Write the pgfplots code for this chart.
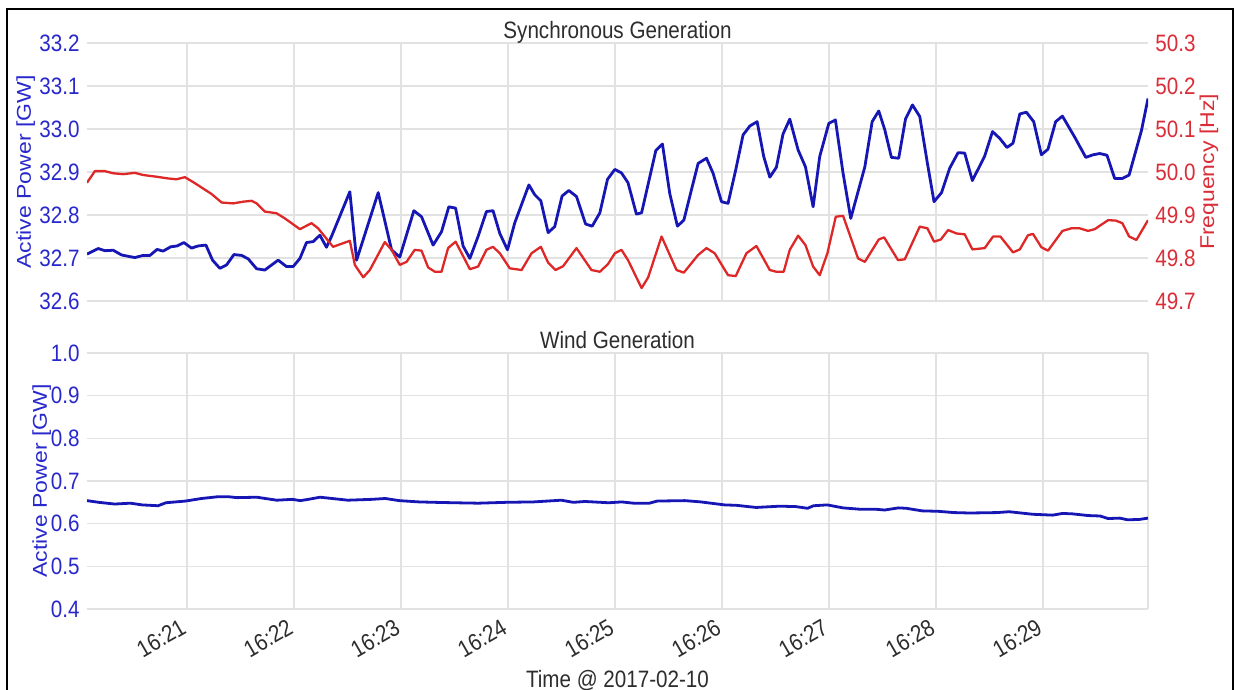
\documentclass[border=0pt]{standalone}
\usepackage{fontspec}
\setmainfont{Liberation Sans}[FakeStretch=0.87]
\newfontfamily\vfont{Liberation Sans}
\usepackage{graphicx}
\usepackage{pgfplots}
\pgfplotsset{compat=1.18}

\definecolor{pblue}{RGB}{22,22,180}
\definecolor{lblue}{RGB}{40,40,205}
\definecolor{pred}{RGB}{222,40,40}
\definecolor{lred}{RGB}{218,45,55}
\definecolor{gridc}{RGB}{226,226,226}
\definecolor{titc}{RGB}{45,45,45}

\newcommand{\hfont}{\fontsize{11.85bp}{14bp}\selectfont}
\newcommand{\vlab}[1]{\scalebox{1}[0.87]{\vfont\fontsize{11.5bp}{14bp}\selectfont #1}}

\pgfplotsset{
  base/.style={
    scale only axis, width=530.5bp, anchor=south west,
    xmin=4, xmax=599,
    xtick={60,120,180,240,300,360,420,480,540},
    axis line style={draw=none}, major tick length=0pt,
    grid=major, grid style={line width=0.8bp, color=gridc},
    /pgf/number format/assume math mode=true,
    tick label style={font=\hfont},
    y tick label style={/pgf/number format/.cd, fixed, fixed zerofill, precision=1, /tikz/.cd},
    every axis title/.style={at={(0.5,1)}, anchor=base, inner sep=0pt, font=\hfont, text=titc},
  },
}

\begin{document}
\begin{tikzpicture}
\useasboundingbox (0,0) rectangle (617bp,345bp);
\draw[line width=1bp] (3.5bp,0) -- (3.5bp,340.5bp) -- (616.5bp,340.5bp) -- (616.5bp,0);

% synchronous generation, active power
\begin{axis}[base,
  at={(43.5bp,194.5bp)}, height=129bp,
  ymin=32.6, ymax=33.2,
  ytick={32.6,32.7,32.8,32.9,33.0,33.1,33.2},
  xticklabels={},
  yticklabel style={color=lblue, anchor=east, inner xsep=0pt, xshift=-3.5bp},
  title={Synchronous Generation},
  title style={yshift=2bp},
  ylabel={\vlab{Active Power [GW]}},
  every axis y label/.style={at={(axis description cs:-0.0528,0.5)}, anchor=base, rotate=90, inner sep=0pt, color=lblue},
]
\addplot[draw=pblue, line width=1.4bp, line join=round, mark=none] coordinates {
(4,32.709)(10.3,32.722)(14.0,32.717)(18.7,32.718)(23.4,32.707)(30.8,32.701)(35.5,32.706)(39.3,32.706)
(43.3,32.720)(46.7,32.716)(50.9,32.726)(54.6,32.728)(58.3,32.736)(62.6,32.723)(66.3,32.728)(70.7,32.730)
(74.4,32.695)(78.5,32.676)(82.3,32.684)(86.4,32.708)(90.7,32.706)(94.4,32.698)(99.1,32.675)(103.7,32.672)
(111.2,32.695)(115.9,32.680)(119.6,32.680)(123.4,32.699)(127.1,32.736)(130.8,32.738)(134.6,32.753)(138.3,32.725)
(141.1,32.750)(151.4,32.854)(155.2,32.695)(167.3,32.852)(174.8,32.719)(179.4,32.702)(187.3,32.810)(191.6,32.796)
(198.1,32.730)(202.8,32.761)(206.9,32.819)(210.7,32.816)(214.9,32.728)(218.7,32.699)(223.3,32.750)(228.0,32.808)
(231.7,32.810)(235.5,32.757)(239.8,32.719)(243.9,32.782)(251.8,32.870)(255.1,32.847)(258.5,32.833)(262.6,32.759)
(266.3,32.773)(270.4,32.844)(274.2,32.857)(278.5,32.843)(283.6,32.779)(287.3,32.774)(291.6,32.805)(295.9,32.883)
(300.0,32.906)(303.7,32.898)(307.4,32.875)(312.1,32.802)(315.0,32.805)(323.0,32.950)(326.7,32.965)(330.8,32.850)
(335.1,32.774)(338.7,32.788)(346.7,32.920)(351.4,32.932)(355.1,32.897)(359.8,32.831)(363.5,32.827)(367.8,32.905)
(371.9,32.986)(375.7,33.007)(379.8,33.017)(383.5,32.936)(386.9,32.888)(390.6,32.911)(394.3,32.988)(398.1,33.023)
(402.8,32.951)(406.9,32.912)(411.2,32.819)(414.9,32.936)(420.0,33.013)(423.7,33.021)(428.0,32.897)(432.3,32.792)
(440.2,32.912)(444.3,33.017)(448.0,33.042)(451.4,32.998)(455.1,32.934)(459.2,32.932)(463.0,33.023)(466.9,33.056)
(471.0,33.029)(475.3,32.920)(479.0,32.831)(483.2,32.852)(487.8,32.909)(492.5,32.945)(496.2,32.944)(500.5,32.880)
(507.4,32.937)(511.8,32.994)(515.9,32.978)(519.9,32.957)(523.3,32.967)(527.1,33.035)(530.8,33.039)(534.9,33.017)
(539.2,32.940)(542.9,32.953)(547.2,33.017)(551.0,33.030)(557.9,32.981)(564.1,32.934)(568.2,32.940)(571.9,32.943)
(576.0,32.939)(580.3,32.885)(584.6,32.885)(588.4,32.893)(595.3,32.996)(599.0,33.071)
};
\end{axis}

% synchronous generation, frequency
\begin{axis}[base,
  at={(43.5bp,194.5bp)}, height=129bp,
  ymin=49.7, ymax=50.3,
  ytick={49.7,49.8,49.9,50.0,50.1,50.2,50.3},
  axis y line*=right, axis x line=none, grid=none,
  yticklabel style={color=lred, anchor=west, inner xsep=0pt, xshift=3.5bp},
  ylabel={\vlab{Frequency [Hz]}},
  every axis y label/.style={at={(axis description cs:1.0622,0.5)}, anchor=base, rotate=90, inner sep=0pt, color=lred},
]
\addplot[draw=pred, line width=1.15bp, line join=round, mark=none] coordinates {
(4,49.975)(8.4,50.002)(14.0,50.002)(18.7,49.997)(24.3,49.995)(30.8,49.998)(35.5,49.993)(43.0,49.989)
(49.5,49.985)(54.2,49.983)(58.9,49.988)(64.5,49.974)(73.8,49.949)(79.5,49.929)(86.0,49.927)(91.6,49.931)
(96.3,49.933)(99.1,49.927)(103.7,49.908)(110.3,49.904)(115.0,49.892)(123.4,49.867)(129.9,49.881)(133.6,49.869)
(142.0,49.826)(151.4,49.840)(154.2,49.784)(158.9,49.755)(162.6,49.772)(171.0,49.837)(174.8,49.819)(179.4,49.784)
(183.2,49.791)(187.8,49.819)(191.6,49.817)(195.3,49.778)(199.1,49.768)(202.8,49.768)(206.5,49.823)(210.7,49.838)
(218.7,49.774)(223.3,49.780)(228.0,49.819)(231.7,49.826)(235.5,49.811)(241.1,49.776)(247.7,49.772)(253.3,49.811)
(258.5,49.826)(262.6,49.789)(266.7,49.772)(271.0,49.781)(278.5,49.823)(286.9,49.772)(291.6,49.768)(296.2,49.786)
(300.0,49.811)(303.7,49.819)(307.4,49.795)(315.0,49.730)(318.7,49.755)(326.2,49.850)(334.6,49.772)(338.7,49.766)
(346.7,49.807)(351.4,49.823)(356.0,49.811)(363.5,49.760)(367.8,49.758)(373.8,49.811)(379.4,49.828)(386.9,49.772)
(390.6,49.768)(394.7,49.768)(398.1,49.819)(402.8,49.852)(406.9,49.830)(411.2,49.780)(414.9,49.760)(419.2,49.811)
(423.9,49.896)(428.0,49.898)(436.4,49.799)(440.2,49.791)(448.0,49.843)(451.0,49.848)(458.8,49.795)(462.6,49.797)
(471.0,49.873)(475.3,49.869)(479.0,49.838)(482.8,49.843)(486.9,49.865)(491.6,49.857)(496.2,49.855)(500.5,49.820)
(507.4,49.823)(512.1,49.850)(516.2,49.850)(523.3,49.813)(527.1,49.820)(531.7,49.853)(534.5,49.856)(539.2,49.825)
(542.9,49.817)(551.0,49.863)(556.0,49.869)(560.7,49.869)(565.4,49.863)(569.1,49.867)(576.6,49.888)(580.9,49.887)
(584.6,49.881)(588.4,49.850)(592.5,49.842)(599.0,49.888)
};
\end{axis}

% wind generation
\begin{axis}[base,
  at={(43.5bp,40.5bp)}, height=128bp,
  ymin=0.4, ymax=1.0,
  ytick={0.4,0.5,0.6,0.7,0.8,0.9,1.0},
  xticklabels={16:21,16:22,16:23,16:24,16:25,16:26,16:27,16:28,16:29},
  extra x ticks={599}, extra x tick labels={},
  xticklabel style={xshift=-1.5bp, yshift=-8bp, rotate=30, anchor=east, inner sep=0pt, color=titc},
  yticklabel style={color=lblue, anchor=east, inner xsep=0pt, xshift=-3.5bp},
  title={Wind Generation},
  title style={yshift=2.4bp},
  ylabel={\vlab{Active Power [GW]}},
  every axis y label/.style={at={(axis description cs:-0.0377,0.5)}, anchor=base, rotate=90, inner sep=0pt, color=lblue},
  xlabel={Time @ 2017-02-10},
  every axis x label/.style={at={(axis description cs:0.5,0)}, anchor=base, yshift=-39bp, inner sep=0pt, font=\hfont, text=titc},
]
\addplot[draw=pblue, line width=1.4bp, line join=round, mark=none] coordinates {
(4,0.654)(10.6,0.650)(19.5,0.646)(28.3,0.648)(34.9,0.644)(43.9,0.642)(48.2,0.649)(59.3,0.653)
(68.2,0.659)(77.1,0.663)(83.7,0.663)(88.1,0.661)(99.2,0.662)(110.4,0.655)(119.2,0.657)(123.6,0.654)
(128.1,0.657)(134.7,0.662)(141.4,0.659)(150.3,0.655)(163.6,0.657)(171.3,0.659)(179.1,0.654)(190.1,0.651)
(199.1,0.650)(210.1,0.649)(223.4,0.648)(238.9,0.650)(254.5,0.651)(270.0,0.655)(276.7,0.650)(283.3,0.652)
(296.6,0.649)(303.8,0.651)(310.5,0.648)(319.4,0.648)(323.8,0.653)(339.3,0.654)(348.2,0.651)(361.5,0.644)
(368.2,0.643)(379.2,0.638)(392.6,0.641)(401.4,0.640)(408.1,0.636)(411.4,0.642)(419.1,0.644)(428.0,0.637)
(436.9,0.634)(445.8,0.634)(451.3,0.632)(459.1,0.637)(463.5,0.636)(472.3,0.630)(481.2,0.629)(490.1,0.626)
(499.0,0.625)(514.5,0.626)(521.1,0.628)(534.4,0.622)(545.5,0.620)(551.1,0.624)(556.6,0.623)(565.5,0.619)
(572.1,0.618)(576.6,0.612)(583.2,0.613)(587.6,0.609)(594.3,0.610)(599,0.613)
};
\end{axis}
\end{tikzpicture}
\end{document}
